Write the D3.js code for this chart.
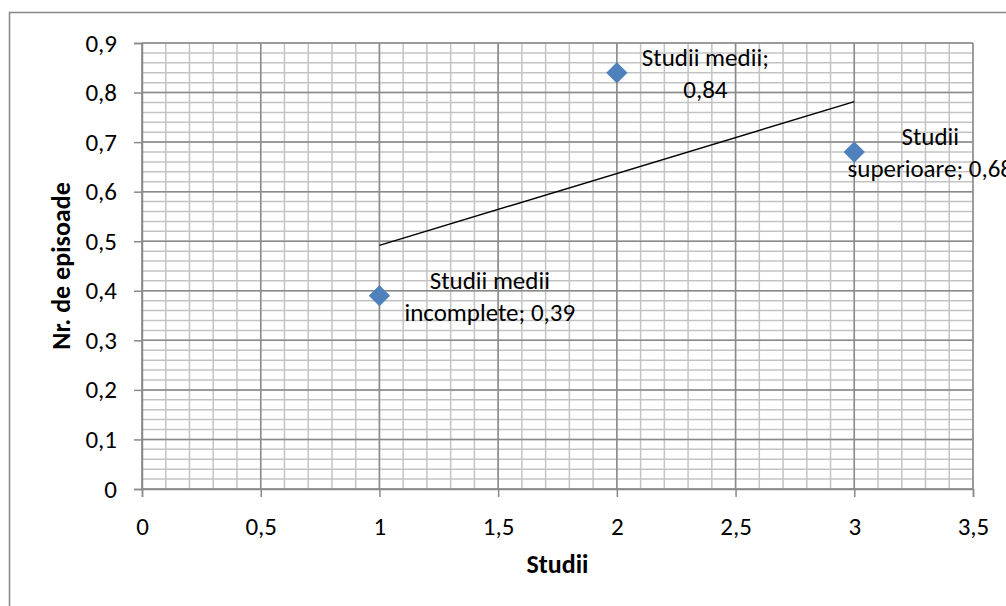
<!DOCTYPE html>
<html>
<head>
<meta charset="utf-8">
<script src="https://cdn.jsdelivr.net/npm/d3@7"></script>
<style>
  body { margin: 0; background: #fff; }
  svg { display: block; font-family: Carlito, Lato, sans-serif; }
</style>
</head>
<body>
<svg width="1006" height="606"></svg>
<script>
// data
var studii = [1, 2, 3];
var episoade = [0.39, 0.84, 0.68];
var labels = [
  ["Studii medii", "incomplete; 0,39"],
  ["Studii medii;", "0,84"],
  ["Studii", "superioare; 0,68"]
];
var xTicks = [0, 0.5, 1, 1.5, 2, 2.5, 3, 3.5];
var yTicks = [0, 0.1, 0.2, 0.3, 0.4, 0.5, 0.6, 0.7, 0.8, 0.9];

var svg = d3.select("svg"),
  margin = {top: 43, right: 33, bottom: 117, left: 142},
  width = +svg.attr("width") - margin.left - margin.right,
  height = +svg.attr("height") - margin.top - margin.bottom,
  chartRight = 1013; // right edge of chart frame (outside the picture)

var ro = d3.formatLocale({decimal: ",", thousands: ".", grouping: [3], currency: ["", ""]});
var fmt = ro.format("~g");

// outer chart frame (runs off the picture right/bottom)
svg.append("rect")
  .attr("x", 9.5).attr("y", 12.5)
  .attr("width", 1010).attr("height", 610)
  .attr("fill", "none").attr("stroke", "#878787").attr("stroke-width", 1.5);

var g = svg.append("g").attr("transform", "translate(" + margin.left + "," + margin.top + ")");

var x = d3.scaleLinear().domain([0, 3.5]).range([0, width]),
  y = d3.scaleLinear().domain([0, 0.9]).range([height, 0]);

// minor grid
g.append("g").selectAll("line")
  .data(d3.range(0, 36).map(d => d / 10))
  .enter().append("line")
  .attr("x1", d => x(d)).attr("x2", d => x(d))
  .attr("y1", 0).attr("y2", height)
  .attr("stroke", "#c3c3c3").attr("stroke-width", 1.5);

g.append("g").selectAll("line")
  .data(d3.range(0, 46).map(d => d / 50))
  .enter().append("line")
  .attr("x1", 0).attr("x2", width)
  .attr("y1", d => y(d)).attr("y2", d => y(d))
  .attr("stroke", "#c3c3c3").attr("stroke-width", 1.5);

// major grid
g.append("g").selectAll("line")
  .data(xTicks)
  .enter().append("line")
  .attr("x1", d => x(d)).attr("x2", d => x(d))
  .attr("y1", 0).attr("y2", height)
  .attr("stroke", "#8a8a8a").attr("stroke-width", 1.5);

g.append("g").selectAll("line")
  .data(yTicks)
  .enter().append("line")
  .attr("x1", 0).attr("x2", width)
  .attr("y1", d => y(d)).attr("y2", d => y(d))
  .attr("stroke", "#8a8a8a").attr("stroke-width", 1.5);

// axes
var xAxis = g.append("g")
  .attr("transform", "translate(0," + height + ")")
  .call(d3.axisBottom(x).tickValues(xTicks).tickFormat(fmt).tickSize(8).tickPadding(20));

var yAxis = g.append("g")
  .call(d3.axisLeft(y).tickValues(yTicks).tickFormat(fmt).tickSize(8).tickPadding(17));

[xAxis, yAxis].forEach(a => {
  a.select(".domain").attr("stroke", "#8a8a8a").attr("stroke-width", 1.5);
  a.selectAll(".tick line").attr("stroke", "#8a8a8a").attr("stroke-width", 1.5);
  a.selectAll(".tick text").attr("fill", "#000").style("font-size", "25px")
    .style("font-family", "Carlito, Lato, sans-serif");
});

// linear trendline
var mx = d3.mean(studii), my = d3.mean(episoade);
var slope = d3.sum(studii, (s, i) => (s - mx) * (episoade[i] - my)) / d3.sum(studii, s => (s - mx) * (s - mx));
var icpt = my - slope * mx;
var trend = d3.extent(studii).map(s => ({s: s, v: icpt + slope * s}));

g.append("path")
  .attr("d", d3.line().x(d => x(d.s)).y(d => y(d.v))(trend))
  .attr("fill", "none").attr("stroke", "#000").attr("stroke-width", 1.5);

// markers
g.selectAll(".pt")
  .data(studii)
  .enter().append("path")
  .attr("class", "pt")
  .attr("d", d3.symbol(d3.symbolSquare, 196))
  .attr("transform", (d, i) => "translate(" + x(d) + "," + y(episoade[i]) + ") rotate(45)")
  .attr("fill", "#4f81bd").attr("stroke", "#4a7ebb").attr("stroke-width", 1);

// data labels, right of each point, pushed back left at the chart edge
studii.forEach((s, i) => {
  var t = g.append("text")
    .attr("fill", "#000").style("font-size", "25px")
    .attr("text-anchor", "middle");
  labels[i].forEach((line, k) => {
    t.append("tspan").attr("x", 0).attr("y", k * 32 - 7).text(line);
  });
  var w = d3.max(t.selectAll("tspan").nodes(), n => n.getComputedTextLength());
  var cx = Math.min(x(s) + 25 + w / 2, chartRight - margin.left - w / 2);
  t.attr("transform", "translate(" + cx + "," + y(episoade[i]) + ")");
});

// axis titles
g.append("text")
  .attr("x", width / 2).attr("y", height + 84)
  .attr("text-anchor", "middle")
  .style("font-size", "26px").style("font-weight", "bold")
  .text("Studii");

g.append("text")
  .attr("transform", "rotate(-90)")
  .attr("x", -height / 2).attr("y", -72)
  .attr("text-anchor", "middle")
  .style("font-size", "26px").style("font-weight", "bold")
  .text("Nr. de episoade");
</script>
</body>
</html>
